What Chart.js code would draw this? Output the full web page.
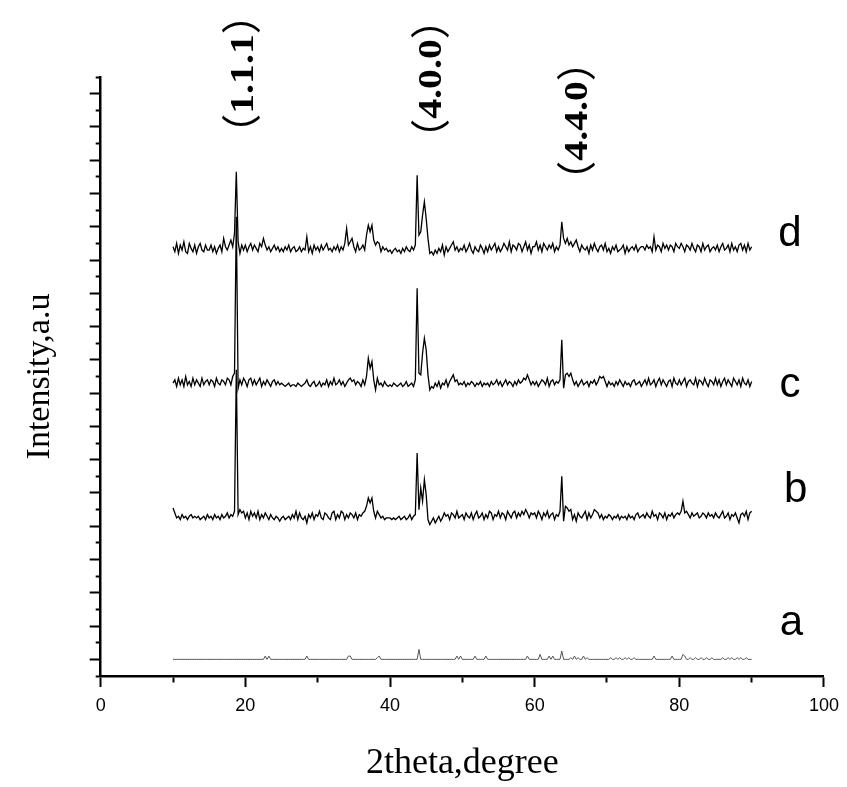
<!DOCTYPE html>
<html><head><meta charset="utf-8">
<script src="https://cdn.jsdelivr.net/npm/chart.js@4.4.0/dist/chart.umd.min.js"></script>
<style>html,body{margin:0;padding:0;background:#fff}canvas{display:block}</style>
</head><body>
<canvas id="c" width="847" height="787"></canvas>
<script>
// measurement grid (2theta, degrees)
const THETA_START = 10, THETA_STEP = 0.25;
const sampleNames = ['a', 'b', 'c', 'd'];
const offsets = [10, 96, 176, 257];

const intensityA = [
0,0,0,0,0,0,0,0,0,0,0,0,0,0,0,0,0,0,0,0,
0,0,0,0,0,0,0,0,0,0,0,0,0,0,0,0,0,0,0,0,
0,0,0,0,0,0,0,0,0,0,0,2,0,2,0,0,0,0,0,0,
0,0,0,0,0,0,0,0,0,0,0,0,0,0,2,0,0,0,0,0,
0,0,0,0,0,0,0,0,0,0,0,0,0,0,0,0,0,2,2,0,
0,0,0,0,0,0,0,0,0,0,0,0,0,1,2,0,0,0,0,0,
0,0,0,0,0,0,0,0,0,0,0,0,0,0,0,0,6,0,0,0,
0,0,0,0,0,0,0,0,0,0,0,0,0,0,0,0,0,2,0,2,
0,0,0,0,0,0,0,2,0,0,0,0,0,2,0,0,0,0,0,0,
0,0,0,0,0,0,0,0,0,0,0,0,0,0,0,0,2,0,0,0,
0,0,0,3,0,0,0,0,2,0,2,0,0,0,0,5,0,0,0,0,
1,0,2,0,1,0,0,2,0,1,0,0,0,0,0,0,0,0,0,0,
0,0,1,0,0,1,0,1,0,0,1,0,1,0,0,1,0,0,0,0,
0,0,0,0,0,0,2,0,0,0,0,0,0,0,0,0,2,0,0,0,
0,0,3,2,0,0,1,0,0,1,0,0,1,0,0,1,0,0,1,0,
0,0,0,0,1,0,0,1,0,1,0,0,1,0,1,0,0,1,0,0,0];

const intensityB = [
5,2,-1,0,-2,1,-1,0,-2,0,1,-1,0,-1,0,-2,-1,0,-2,1,
-1,0,-2,1,-1,0,-2,1,-1,0,2,-1,1,0,3,88,1,4,2,3,
-1,2,-2,3,0,2,-1,3,-2,1,-1,2,0,-2,1,-1,-2,0,-1,-3,
-1,0,-2,-1,0,-2,1,-1,3,-2,2,-1,-2,0,-4,1,-1,2,-2,1,
0,3,-1,-2,2,1,-1,-2,2,3,-2,1,-1,3,2,-2,1,-1,2,1,
-1,2,-2,1,0,2,3,6,11,8,11,3,-1,3,1,-1,0,-2,-1,-1,
-1,-2,-1,-2,-1,0,-2,-1,0,-2,-1,1,-2,0,1,38,4,17,9,22,
13,-2,-5,-3,-1,-4,-2,0,-3,-1,2,0,1,-2,2,1,-1,3,-1,0,
1,-2,2,0,-1,2,-2,1,3,-1,0,2,-2,1,-1,3,2,-2,1,0,
3,-1,2,1,-2,3,1,-1,2,3,-1,2,0,3,1,4,2,-1,2,1,
2,-1,3,1,-2,2,0,3,-1,1,2,-2,1,0,3,24,-3,6,5,3,
4,-2,1,-3,2,0,-1,1,3,-2,2,-1,1,4,3,2,-1,1,-2,0,
-1,1,0,-2,0,-1,1,-2,0,-1,0,-2,1,-1,0,-2,1,2,-1,0,
1,-1,2,0,-1,3,0,1,-2,2,1,-1,2,-2,1,0,2,-1,1,2,
1,3,9,2,3,1,-1,2,0,1,2,-1,0,2,1,-1,2,0,1,-1,
2,0,-1,1,3,-1,0,2,-2,1,0,2,-1,-4,1,2,0,3,-2,2,3];

const intensityC = [
0,2,-2,3,-1,2,-2,4,-1,1,-2,3,-1,2,0,-2,3,-1,1,2,
-1,2,1,-2,3,0,-1,2,1,-1,3,2,-1,4,6,100,-3,2,-1,3,
1,-2,2,3,-1,2,-1,1,3,-2,1,-1,2,0,-2,1,2,-1,1,-1,
0,-1,-2,-1,0,-2,-1,-1,-2,0,-1,-2,-1,0,2,-1,-2,0,1,-2,
-1,1,-2,0,-1,2,-2,1,-1,3,-1,0,2,-1,1,-2,0,2,3,1,
2,-1,1,0,-2,2,-1,4,15,9,13,2,-4,3,-1,0,-2,1,-1,-2,
-1,-2,0,-1,-2,-1,0,-2,-1,1,-2,-1,0,-2,2,57,6,5,18,27,
20,5,-4,-2,-3,0,-2,1,-3,0,-1,2,-2,1,3,5,1,2,-1,0,
-1,1,-2,0,-1,1,0,-2,0,-1,1,-2,0,-1,0,-2,1,-1,0,2,
-1,1,-2,0,2,-1,1,0,-2,1,-1,2,0,1,3,2,5,2,-1,1,
-1,1,-2,0,2,1,-1,3,-2,1,2,-1,1,0,2,26,-3,5,6,4,
6,2,-1,1,-2,0,2,-1,0,1,-2,1,0,2,-1,1,4,3,4,1,
-2,1,-1,0,-2,1,-1,2,0,-2,1,-1,0,-2,1,2,-1,0,1,-2,
0,2,-1,3,-1,0,2,-2,1,3,-1,2,0,-2,1,2,-2,3,0,-1,
2,-1,1,3,-2,1,2,0,-1,3,-2,2,1,-1,3,0,-2,2,1,-1,
3,-1,2,-2,1,3,-1,2,0,-2,3,1,-1,2,-2,3,0,-1,2,-2,1];

const intensityD = [
1,-2,3,-3,2,-1,4,-2,-3,3,0,-2,2,-3,1,3,-1,-2,2,-1,
-1,2,-2,1,-3,0,2,-2,6,1,-1,2,5,1,9,46,4,-3,2,-1,
2,-2,1,3,-1,2,0,-2,3,1,6,2,-1,1,-2,0,2,-1,1,-2,
0,-2,1,-1,2,-2,0,1,-2,-1,1,-2,0,-1,7,-2,1,-3,2,-1,
1,-2,2,-1,1,3,-1,0,-2,1,-1,2,-2,1,-1,3,12,2,4,6,
1,-2,3,-1,0,2,-1,8,14,10,14,5,2,4,3,-2,1,-1,0,-2,
-1,-3,-1,0,-2,-1,-3,0,-2,1,-1,-2,1,-1,2,44,8,10,20,28,
18,6,-3,-2,-4,-1,-3,0,-2,2,-4,1,-2,0,2,4,-1,1,-2,0,
-1,2,-2,0,3,-1,-3,1,-1,-2,2,0,-3,1,-2,2,-1,1,3,-2,
1,-2,0,3,1,-1,4,-2,2,1,-1,3,2,-2,1,4,-1,2,-3,1,
1,4,-1,2,-2,3,1,-1,2,0,3,-2,1,-1,2,16,6,3,6,2,
4,1,3,5,1,-2,2,0,-1,1,-3,2,-1,3,0,-2,1,2,-1,3,
-2,0,-3,1,-1,2,-2,-1,0,2,-3,1,-2,0,1,-1,2,-2,0,1,
1,-1,2,0,1,-2,7,-1,2,1,-2,3,0,2,-1,2,1,-2,3,1,
0,3,1,-2,2,1,-1,3,0,-2,2,1,-2,3,-1,1,2,-2,0,1,
-1,2,-2,1,3,-1,0,2,-2,3,-1,1,-2,2,3,-1,2,-2,3,-1,1];

const xTickValues = [0,10,20,30,40,50,60,70,80,90,100];
const xTickLabels = ['0','','20','','40','','60','','80','','100'];
const yTickValues = [0,10,20,30,40,50,60,70,80,90,100,110,120,130,140,150,160,170,180,
  190,200,210,220,230,240,250,260,270,280,290,300,310,320,330,340,350,360];

const peakLabels = ['（1.1.1）', '（4.0.0）', '（4.4.0）'];
const peakLabelX = [19.4, 45.5, 65.7];
const peakLabelY = [361.8, 358.8, 333.6];
const sampleLabelX = [95.5, 96.1, 95.3, 95.3];
const sampleLabelY = [24.6, 104.4, 167.4, 258.6];

const twoTheta = intensityA.map((_, i) => THETA_START + i * THETA_STEP);
const seriesList = [intensityA, intensityB, intensityC, intensityD];

const datasets = seriesList.map((vals, k) => ({
  label: sampleNames[k],
  data: vals.map((v, i) => ({ x: twoTheta[i], y: offsets[k] + v })),
  borderColor: k === 0 ? '#555' : '#000',
  borderWidth: k === 0 ? 1 : 1.3,
  pointRadius: 0,
  tension: 0,
  fill: false
}));

const textPlugin = {
  id: 'texts',
  afterDraw(chart) {
    const { ctx } = chart;
    const x = chart.scales.x, y = chart.scales.y;
    const fDig = 'bold 34px "Liberation Serif", "Times New Roman", serif';
    const fPar = '40px "Noto Sans CJK SC", sans-serif';
    const stretch = 1.17;
    ctx.save();
    ctx.fillStyle = '#000';
    peakLabels.forEach((t, i) => {
      const open = t.charAt(0), close = t.charAt(t.length - 1), inner = t.slice(1, -1);
      ctx.save();
      ctx.translate(x.getPixelForValue(peakLabelX[i]), y.getPixelForValue(peakLabelY[i]));
      ctx.rotate(-Math.PI / 2);
      ctx.textAlign = 'left';
      ctx.textBaseline = 'alphabetic';
      ctx.font = fPar;
      const wo = ctx.measureText(open).width, wc = ctx.measureText(close).width;
      ctx.font = fDig;
      const wd = ctx.measureText(inner).width * stretch;
      let cx = -(wo + wd + wc) / 2;
      ctx.font = fPar;
      ctx.fillText(open, cx, 15);
      cx += wo;
      ctx.font = fDig;
      ctx.save();
      ctx.translate(cx, 11.5);
      ctx.scale(stretch, 1);
      ctx.fillText(inner, 0, 0);
      ctx.restore();
      cx += wd;
      ctx.font = fPar;
      ctx.fillText(close, cx, 15);
      ctx.restore();
    });
    ctx.font = '42px "Liberation Sans", Arial, sans-serif';
    ctx.textAlign = 'center';
    ctx.textBaseline = 'alphabetic';
    sampleNames.forEach((n, i) => {
      ctx.fillText(n, x.getPixelForValue(sampleLabelX[i]), y.getPixelForValue(sampleLabelY[i]));
    });
    ctx.restore();
  }
};

new Chart(document.getElementById('c'), {
  type: 'line',
  data: { datasets },
  plugins: [textPlugin],
  options: {
    responsive: false,
    animation: false,
    events: [],
    layout: { padding: { top: 77, right: 21, left: 0, bottom: 0 } },
    plugins: { legend: { display: false }, tooltip: { enabled: false } },
    scales: {
      x: {
        type: 'linear', min: 0, max: 100,
        afterBuildTicks: s => { s.ticks = xTickValues.map(v => ({ value: v })); },
        afterFit: s => { s.height = 111; },
        ticks: {
          autoSkip: false, maxRotation: 0, color: '#000', padding: 8,
          font: { family: '"Liberation Sans", Arial, sans-serif', size: 18 },
          callback: (v, i) => xTickLabels[i]
        },
        grid: {
          drawOnChartArea: false, tickLength: 11, tickColor: '#000', tickWidth: 2,
          tickBorderDash: c => (c.tick && c.tick.value % 20 !== 0) ? [5, 40] : []
        },
        border: { color: '#000', width: 2.5 },
        title: {
          display: true, text: '2theta,degree', color: '#000',
          font: { family: '"Liberation Serif", "Times New Roman", serif', size: 36 },
          padding: { top: 0, bottom: 2 }
        }
      },
      y: {
        type: 'linear', min: 0, max: 360,
        afterBuildTicks: s => { s.ticks = yTickValues.map(v => ({ value: v })); },
        afterFit: s => { s.width = 100.7; },
        ticks: { display: false },
        grid: {
          drawOnChartArea: false, tickLength: 11, tickColor: '#000', tickWidth: 2,
          tickBorderDash: c => (c.tick && c.tick.value % 20 === 0) ? [0, 6, 30, 0] : []
        },
        border: { color: '#000', width: 2.5 },
        title: {
          display: true, text: 'Intensity,a.u', color: '#000',
          font: { family: '"Liberation Serif", "Times New Roman", serif', size: 34 },
          padding: { top: 20, bottom: 0 }
        }
      }
    }
  }
});
</script>
</body></html>
